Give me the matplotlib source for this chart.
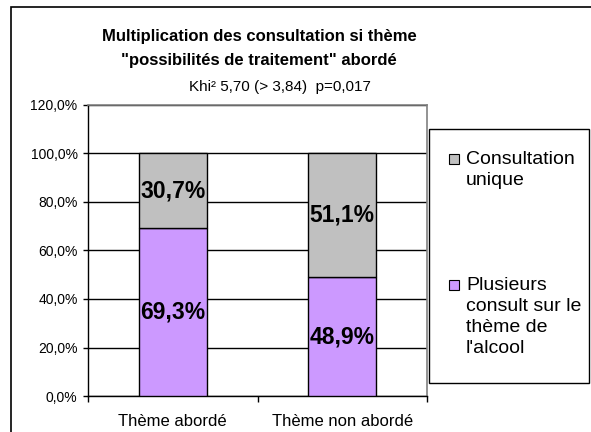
import matplotlib.pyplot as plt
from matplotlib.patches import Rectangle
from matplotlib.ticker import FuncFormatter, FixedLocator

plt.rcParams['font.family'] = ['Liberation Sans', 'DejaVu Sans']

categories = ["Thème abordé", "Thème non abordé"]
plusieurs = [69.3, 48.9]
unique = [30.7, 51.1]
series_names = ["Consultation\nunique", "Plusieurs\nconsult sur le\nthème de\nl'alcool"]
yticks = [0, 20, 40, 60, 80, 100, 120]

col_unique = "#C0C0C0"
col_plus = "#CC99FF"

W, H = 591, 432
fig = plt.figure(figsize=(W / 100, H / 100), dpi=100)

def px(x, y):
    # pixel coords (top-left origin) -> figure fraction
    return x / W, 1 - y / H

# outer frame of the chart
fig.add_artist(Rectangle(px(11, 440), (600 - 11) / W, (440 - 7) / H,
                         transform=fig.transFigure, fill=False,
                         edgecolor="black", linewidth=1.2, clip_on=False))

ax = fig.add_axes([88 / W, 1 - 396 / H, 339 / W, 291 / H])
x = list(range(len(categories)))
ax.bar(x, plusieurs, width=0.4, color=col_plus, edgecolor="black", linewidth=1, zorder=3)
ax.bar(x, unique, width=0.4, bottom=plusieurs, color=col_unique, edgecolor="black",
       linewidth=1, zorder=3)

for i in x:
    ax.text(i, plusieurs[i] / 2, f"{plusieurs[i]:.1f}%".replace(".", ","),
            ha="center", va="center", fontsize=16.5, fontweight="bold", zorder=4)
    ax.text(i, plusieurs[i] + unique[i] / 2, f"{unique[i]:.1f}%".replace(".", ","),
            ha="center", va="center", fontsize=16.5, fontweight="bold", zorder=4)

ax.set_xlim(-0.5, len(categories) - 0.5)
ax.set_ylim(0, 120)
ax.set_yticks(yticks)
ax.yaxis.set_major_formatter(FuncFormatter(lambda v, p: f"{v:.1f}%".replace(".", ",")))
ax.yaxis.grid(True, color="black", linewidth=1, zorder=0)
ax.set_axisbelow(True)

ax.set_xticks(x)
ax.set_xticklabels(categories, fontsize=12)
ax.xaxis.set_minor_locator(FixedLocator([-0.5, 0.5, 1.5]))
ax.tick_params(axis="x", which="major", length=0, pad=13)
ax.tick_params(axis="x", which="minor", length=4.5, width=1, direction="out")
ax.tick_params(axis="y", length=3.5, width=1, labelsize=10, pad=4)

for s in ["top", "right"]:
    ax.spines[s].set_color("#808080")
    ax.spines[s].set_linewidth(1.2)
for s in ["left", "bottom"]:
    ax.spines[s].set_color("black")
    ax.spines[s].set_linewidth(1)

# titles
fig.text(*px(259, 36), "Multiplication des consultation si thème", ha="center", va="center",
         fontsize=12, fontweight="bold")
fig.text(*px(259, 60), "\"possibilités de traitement\" abordé", ha="center", va="center",
         fontsize=12, fontweight="bold")
fig.text(*px(280, 87), "Khi² 5,70 (> 3,84)  p=0,017", ha="center", va="center", fontsize=11)

# legend box
fig.add_artist(Rectangle(px(429, 383), 160 / W, 254 / H, transform=fig.transFigure,
                         facecolor="white", edgecolor="black", linewidth=1))
for name, col, ytop in [(series_names[0], col_unique, 154), (series_names[1], col_plus, 280)]:
    fig.add_artist(Rectangle(px(449, ytop + 10), 10 / W, 10 / H, transform=fig.transFigure,
                             facecolor=col, edgecolor="black", linewidth=0.8))
    fig.text(*px(466, ytop - 3), name, ha="left", va="top", fontsize=14, linespacing=1.32)

fig.savefig("out.png", dpi=100)
